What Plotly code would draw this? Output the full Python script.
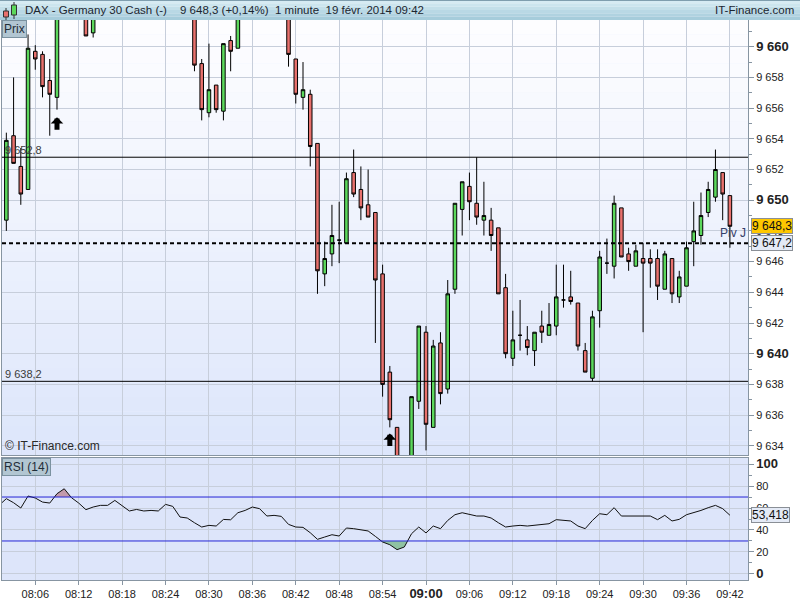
import pandas as pd
import plotly.graph_objects as go
from plotly.subplots import make_subplots

# 1 minute candles, 08:02 -> 09:42 (values above/below the visible range are estimates)
times = pd.date_range("2014-02-19 08:02", periods=101, freq="min")

open_ = [9648.7, 9654.2, 9652.2, 9650.7, 9659.7, 9659.5, 9657.8, 9656.7, 9662.6, 9664.0,
         9662.8, 9662.4, 9660.9, 9662.0, 9663.1, 9663.0, 9664.3, 9663.2, 9662.3, 9662.6,
         9662.2, 9662.3, 9662.1, 9663.4, 9663.0, 9662.1, 9662.2, 9658.9, 9655.7, 9657.5,
         9655.8, 9660.4, 9659.9, 9662.3, 9662.8, 9663.3, 9662.9, 9662.2, 9662.4, 9662.1,
         9659.2, 9656.7, 9656.9, 9653.7, 9645.2, 9646.5, 9647.4, 9647.2, 9651.8, 9650.7,
         9649.7, 9649.2, 9645.2, 9638.8, 9635.2, 9632.8, 9632.6, 9636.9, 9641.4, 9635.2,
         9640.7, 9637.7, 9644.2, 9649.4, 9650.9, 9649.8, 9648.7, 9648.7, 9648.2, 9644.3,
         9639.7, 9641.2, 9640.9, 9640.2, 9641.8, 9641.2, 9641.8, 9643.5, 9643.7, 9643.3,
         9640.2, 9638.4, 9642.8, 9645.9, 9645.7, 9649.5, 9646.5, 9645.7, 9646.2, 9646.2,
         9646.2, 9644.2, 9646.2, 9643.7, 9644.4, 9647.3, 9647.7, 9649.2, 9650.2, 9651.8,
         9650.3]
high_ = [9654.4, 9658.0, 9653.4, 9660.8, 9660.1, 9659.7, 9659.2, 9663.0, 9664.5, 9664.4,
         9663.2, 9662.6, 9662.3, 9663.5, 9663.8, 9664.6, 9664.5, 9663.4, 9662.9, 9662.8,
         9662.6, 9662.5, 9663.6, 9663.7, 9663.1, 9662.4, 9662.5, 9659.2, 9660.2, 9657.5,
         9660.2, 9660.7, 9662.6, 9663.0, 9663.6, 9663.5, 9663.0, 9662.6, 9662.5, 9662.2,
         9659.2, 9659.0, 9657.2, 9653.7, 9647.3, 9649.7, 9649.9, 9651.8, 9653.3, 9652.2,
         9652.0, 9649.2, 9645.8, 9639.2, 9635.2, 9633.0, 9637.2, 9641.8, 9641.8, 9640.9,
         9641.4, 9644.8, 9649.8, 9651.2, 9651.8, 9652.8, 9651.2, 9649.5, 9648.2, 9645.2,
         9642.8, 9643.5, 9641.8, 9641.4, 9642.8, 9643.3, 9645.8, 9645.8, 9645.4, 9643.3,
         9640.7, 9642.8, 9646.7, 9647.5, 9650.3, 9649.5, 9646.9, 9647.1, 9647.2, 9646.8,
         9646.8, 9646.7, 9646.2, 9645.4, 9647.3, 9649.9, 9650.5, 9651.2, 9653.3, 9651.8,
         9650.3]
low_ = [9648.0, 9652.4, 9649.7, 9650.7, 9658.5, 9656.7, 9654.2, 9655.9, 9662.0, 9662.3,
        9662.0, 9660.7, 9660.6, 9661.9, 9662.5, 9662.9, 9662.9, 9662.0, 9662.0, 9662.0,
        9661.9, 9661.9, 9662.0, 9662.8, 9662.0, 9662.0, 9658.4, 9655.2, 9655.4, 9655.7,
        9655.2, 9658.4, 9659.9, 9662.0, 9662.5, 9662.6, 9662.0, 9662.0, 9662.0, 9658.7,
        9656.3, 9655.9, 9652.2, 9643.9, 9644.4, 9645.7, 9645.9, 9647.2, 9650.2, 9648.7,
        9648.9, 9640.7, 9637.2, 9635.2, 9632.5, 9631.8, 9632.4, 9636.4, 9633.7, 9635.2,
        9636.7, 9637.4, 9643.9, 9647.7, 9648.7, 9648.4, 9647.7, 9646.7, 9643.9, 9639.7,
        9639.2, 9640.2, 9639.9, 9639.2, 9640.7, 9641.2, 9641.2, 9643.0, 9643.2, 9640.2,
        9638.8, 9638.2, 9641.7, 9645.2, 9644.9, 9646.3, 9645.4, 9645.7, 9641.4, 9644.3,
        9643.5, 9644.2, 9643.3, 9643.3, 9644.4, 9645.7, 9647.1, 9648.9, 9649.9, 9648.7,
        9646.9]
close_ = [9653.9, 9652.4, 9650.4, 9659.9, 9659.2, 9657.4, 9656.9, 9662.6, 9664.0, 9662.8,
          9662.4, 9660.7, 9662.0, 9663.1, 9663.0, 9664.3, 9663.2, 9662.3, 9662.6, 9662.2,
          9662.3, 9662.1, 9663.4, 9663.0, 9662.1, 9662.2, 9658.8, 9655.9, 9657.2, 9655.9,
          9660.2, 9659.7, 9662.3, 9662.8, 9663.3, 9662.9, 9662.2, 9662.4, 9662.1, 9659.5,
          9656.9, 9657.2, 9653.5, 9645.4, 9646.2, 9647.7, 9647.4, 9651.4, 9650.4, 9649.5,
          9648.9, 9644.8, 9638.0, 9635.7, 9632.8, 9632.2, 9637.2, 9641.8, 9635.4, 9640.5,
          9637.4, 9643.9, 9649.8, 9651.2, 9649.9, 9648.9, 9649.0, 9647.7, 9643.9, 9640.0,
          9640.9, 9641.2, 9640.4, 9641.4, 9641.4, 9641.9, 9643.7, 9643.5, 9643.4, 9640.5,
          9638.8, 9642.4, 9646.3, 9645.9, 9649.8, 9646.3, 9646.0, 9646.7, 9645.9, 9645.9,
          9644.4, 9646.5, 9643.9, 9645.0, 9646.9, 9648.0, 9649.0, 9650.7, 9652.0, 9650.4,
          9648.3]

# RSI (14), one value per minute from 08:01
rsi_times = pd.date_range("2014-02-19 08:01", periods=102, freq="min")
rsi = [62.5, 68.5, 64.8, 60.0, 70.9, 69.1, 65.4, 64.5, 73.0, 77.5,
       69.4, 64.5, 58.5, 60.9, 62.4, 62.4, 66.9, 62.4, 57.3, 58.7,
       57.3, 57.8, 57.3, 63.3, 61.5, 51.8, 50.9, 46.6, 42.7, 44.2,
       43.6, 49.6, 49.3, 55.7, 57.8, 60.9, 59.4, 52.7, 53.3, 52.4,
       45.1, 42.7, 42.4, 37.5, 31.5, 33.6, 35.7, 34.5, 41.8, 41.2,
       40.3, 39.1, 34.2, 29.1, 26.6, 22.1, 24.5, 36.6, 42.7, 37.3,
       43.6, 41.2, 48.7, 53.9, 55.7, 53.9, 52.7, 52.7, 50.9, 46.6,
       42.7, 43.6, 44.2, 43.6, 44.2, 44.8, 45.7, 49.4, 48.5, 48.2,
       43.6, 41.2, 48.7, 54.8, 53.9, 60.3, 52.7, 52.7, 53.3, 52.7,
       52.7, 49.4, 53.3, 48.2, 49.7, 53.9, 55.7, 57.8, 60.3, 62.4,
       59.4, 53.418]

last_price = 9648.3
pivot = 9647.2
upper_level = 9652.8
lower_level = 9638.2
rsi_high, rsi_low = 70, 30

arrow_times = ["2014-02-19 08:09", "2014-02-19 08:55"]
arrow_prices = [9655.4, 9634.8]

price_ticks = list(range(9634, 9661, 2))
rsi_ticks = [0, 20, 40, 60, 80, 100]
time_ticks = pd.date_range("2014-02-19 08:06", "2014-02-19 09:42", freq="6min")

FONT = "Arial, Liberation Sans, sans-serif"
GRID = "#c7cedb"
FRAME = "#8795a2"


def fr(v, dec=0):
    return f"{v:,.{dec}f}".replace(",", " ").replace(".", ",")


def big(s):
    return f'<span style="font-size:13px"><b>{s}</b></span>'


# pixel helpers for decorations outside the data (plot area: x 2..748, y 20..580)
def px(x):
    return (x - 2) / 746


def py(y):
    return (580 - y) / 560


def band(t, v, thr, above):
    xs, ys = [], []
    for i in range(len(v)):
        if i > 0:
            a, b = v[i - 1] - thr, v[i] - thr
            if a * b < 0:
                f = a / (a - b)
                xs.append(t[i - 1] + (t[i] - t[i - 1]) * f)
                ys.append(thr)
        xs.append(t[i])
        ys.append(max(v[i], thr) if above else min(v[i], thr))
    return xs, ys


fig = make_subplots(rows=2, cols=1, shared_xaxes=True, vertical_spacing=0.01)

fig.add_trace(go.Candlestick(
    x=times, open=open_, high=high_, low=low_, close=close_,
    increasing=dict(fillcolor="#5cd85c", line=dict(color="black", width=1)),
    decreasing=dict(fillcolor="#e8716d", line=dict(color="black", width=1)),
    whiskerwidth=0, hoverinfo="skip", showlegend=False,
), row=1, col=1)

# RSI zones fill
for thr, above, col in [(rsi_high, True, "#c39aab"), (rsi_low, False, "#8fc2a2")]:
    bx, by = band(list(rsi_times), rsi, thr, above)
    fig.add_trace(go.Scatter(x=bx, y=[thr] * len(bx), mode="lines", line=dict(width=0),
                             hoverinfo="skip", showlegend=False), row=2, col=1)
    fig.add_trace(go.Scatter(x=bx, y=by, mode="lines", line=dict(width=0), fill="tonexty",
                             fillcolor=col, hoverinfo="skip", showlegend=False), row=2, col=1)

fig.add_trace(go.Scatter(x=rsi_times, y=rsi, mode="lines", line=dict(color="#111111", width=1),
                         hoverinfo="skip", showlegend=False), row=2, col=1)

fig.add_hline(y=rsi_high, line=dict(color="#2424d6", width=1), row=2, col=1)
fig.add_hline(y=rsi_low, line=dict(color="#2424d6", width=1), row=2, col=1)
fig.add_hline(y=upper_level, line=dict(color="black", width=1), row=1, col=1)
fig.add_hline(y=lower_level, line=dict(color="black", width=1), row=1, col=1)
fig.add_hline(y=pivot, line=dict(color="black", width=2, dash="4px,3px"), row=1, col=1)

# price panel gradient background
steps = 30
c0, c1 = (253, 253, 255), (221, 230, 251)
for i in range(steps):
    f = i / (steps - 1)
    c = tuple(round(c0[k] + (c1[k] - c0[k]) * f) for k in range(3))
    fig.add_shape(type="rect", xref="x domain", yref="y domain", x0=0, x1=1,
                  y0=1 - (i + 1) / steps, y1=1 - i / steps, layer="below",
                  line=dict(width=0), fillcolor=f"rgb{c}")
fig.add_shape(type="rect", xref="x2 domain", yref="y2 domain", x0=0, x1=1, y0=0, y1=1,
              layer="below", line=dict(width=0), fillcolor="#dde5fa")

# header bar
hs = 6
h0, h1 = (214, 235, 243), (166, 204, 219)
for i in range(hs):
    f = i / (hs - 1)
    c = tuple(round(h0[k] + (h1[k] - h0[k]) * f) for k in range(3))
    fig.add_shape(type="rect", xref="paper", yref="paper", x0=px(0), x1=px(800),
                  y0=py(20 * (i + 1) / hs), y1=py(20 * i / hs), line=dict(width=0),
                  fillcolor=f"rgb{c}")
fig.add_shape(type="line", xref="paper", yref="paper", x0=px(0), x1=px(800),
              y0=py(0.5), y1=py(0.5), line=dict(color="#7f9eae", width=1))
# small candle icon
fig.add_shape(type="line", xref="paper", yref="paper", x0=px(6), x1=px(6), y0=py(21), y1=py(8),
              line=dict(color="#333", width=1))
fig.add_shape(type="rect", xref="paper", yref="paper", x0=px(3.5), x1=px(8.5), y0=py(17), y1=py(11),
              line=dict(color="#333", width=1), fillcolor="#e8716d")
fig.add_shape(type="line", xref="paper", yref="paper", x0=px(14), x1=px(14), y0=py(19), y1=py(2),
              line=dict(color="#333", width=1))
fig.add_shape(type="rect", xref="paper", yref="paper", x0=px(11.5), x1=px(16.5), y0=py(15), y1=py(5),
              line=dict(color="#333", width=1), fillcolor="#5cd85c")

hdr = dict(xref="paper", yref="paper", y=py(10), yanchor="middle", showarrow=False,
           font=dict(family=FONT, size=11.5, color="#1c2630"))
fig.add_annotation(x=px(23), xanchor="left", text="DAX - Germany 30 Cash (-)", **hdr)
fig.add_annotation(x=px(178), xanchor="left", text=f"{fr(last_price, 1)} (+0,14%)", **hdr)
fig.add_annotation(x=px(273), xanchor="left", text="1 minute  19 févr. 2014 09:42", **hdr)
fig.add_annotation(x=px(796), xanchor="right", text="IT-Finance.com", **hdr)

# arrows
for t, p in zip(arrow_times, arrow_prices):
    fig.add_annotation(x=t, y=p, xref="x", yref="y", ax=0, ay=14, showarrow=True,
                       arrowhead=1, arrowsize=0.42, arrowwidth=5, arrowcolor="black",
                       standoff=0, text="")

# panel labels
box = dict(xref="paper", yref="paper", x=0, xanchor="left", yanchor="top", showarrow=False,
           bgcolor="#b2c6d2", bordercolor="#7b92a0", borderwidth=1, borderpad=1,
           font=dict(family=FONT, size=12, color="#1f2d38"))
fig.add_annotation(y=1, text="Prix", **box)
fig.add_annotation(y=py(458), text="RSI (14)", **box)
fig.add_annotation(xref="paper", yref="paper", x=px(3), y=py(455), xanchor="left", yanchor="bottom",
                   text="© IT-Finance.com", showarrow=False,
                   font=dict(family=FONT, size=12, color="#2a2a2a"))

lvl = dict(xref="paper", yref="y", x=px(3), xanchor="left", yanchor="bottom", showarrow=False,
           font=dict(family=FONT, size=11, color="#3a3a3a"), yshift=-1)
fig.add_annotation(y=upper_level, text=fr(upper_level, 1), **lvl)
fig.add_annotation(y=lower_level, text=fr(lower_level, 1), **lvl)
fig.add_annotation(xref="paper", yref="y", x=1, y=pivot, xanchor="right", yanchor="bottom",
                   text="Piv J", showarrow=False, yshift=1,
                   font=dict(family=FONT, size=12, color="#34406a"))

tag = dict(xref="paper", x=px(751), xanchor="left", yanchor="middle", showarrow=False,
           bordercolor="#8a8f96", borderwidth=1, borderpad=0,
           font=dict(family=FONT, size=12, color="#111"))
fig.add_annotation(yref="y", y=last_price, text=fr(last_price, 1), bgcolor="#ffc800", **tag)
fig.add_annotation(yref="y", y=pivot, text=fr(pivot, 1), bgcolor="#e4eaf6", **tag)
fig.add_annotation(yref="y2", y=rsi[-1], text=fr(rsi[-1], 3), bgcolor="#e4eaf6", **tag)

x_range = ["2014-02-19 08:01:24", "2014-02-19 09:44:30"]
time_text = [big(t.strftime("%H:%M")) if t.minute == 0 else t.strftime("%H:%M") for t in time_ticks]

axis_common = dict(showline=True, linecolor=FRAME, linewidth=1, mirror=True,
                   gridcolor=GRID, gridwidth=1, zeroline=False, automargin=False)

fig.update_xaxes(range=x_range, tickmode="array", tickvals=time_ticks, rangeslider_visible=False,
                 showgrid=True, **axis_common)
fig.update_xaxes(showticklabels=False, ticks="", row=1, col=1)
fig.update_xaxes(ticktext=time_text, ticks="outside", ticklen=4, tickcolor=FRAME,
                 tickfont=dict(family=FONT, size=11, color="#222"), row=2, col=1)

fig.update_yaxes(side="right", range=[9633.40, 9661.74], tickmode="array", tickvals=price_ticks,
                 ticktext=[big(fr(v)) if v % 10 == 0 else fr(v) for v in price_ticks],
                 ticks="outside", ticklen=5, tickcolor=FRAME,
                 minor=dict(tickvals=[v + 1 for v in price_ticks], ticklen=3, tickcolor=FRAME,
                            ticks="outside", showgrid=False),
                 tickfont=dict(family=FONT, size=11, color="#222"), domain=[125 / 560, 1],
                 **axis_common, row=1, col=1)
fig.update_yaxes(side="right", range=[-5.5, 105.5], tickmode="array", tickvals=rsi_ticks,
                 ticktext=[big(v) if v in (0, 100) else str(v) for v in rsi_ticks],
                 ticks="outside", ticklen=5, tickcolor=FRAME,
                 minor=dict(tickvals=[v + 10 for v in rsi_ticks[:-1]], ticklen=3, tickcolor=FRAME,
                            ticks="outside", showgrid=False),
                 tickfont=dict(family=FONT, size=11, color="#222"), domain=[0, 122 / 560],
                 **axis_common, row=2, col=1)

fig.update_layout(
    width=800, height=600,
    margin=dict(l=2, r=52, t=20, b=20, autoexpand=False),
    paper_bgcolor="white", plot_bgcolor="#eef2fd",
    font=dict(family=FONT, size=11, color="#222"),
    showlegend=False, hovermode=False,
)

# the page's default body margin would push the 800x600 figure off the window
fig.write_html("out.html", config={"displayModeBar": False},
               post_script="document.body.style.margin='0';")
